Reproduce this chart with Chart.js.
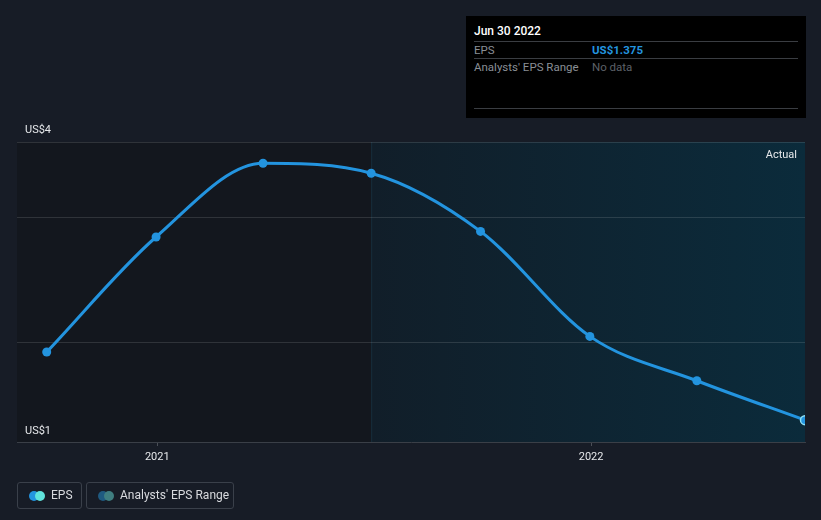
<!DOCTYPE html>
<html>
<head>
<meta charset="utf-8">
<script src="https://cdn.jsdelivr.net/npm/chart.js@4"></script>
<style>
  html, body { margin: 0; padding: 0; background: #171c26; }
  body { width: 821px; height: 520px; position: relative; overflow: hidden; font-family: Roboto, "Noto Sans", sans-serif; }
  #wrap { position: absolute; left: 0; top: 0; width: 821px; height: 520px; }
  .tip { position: absolute; left: 466px; top: 16px; width: 340px; height: 102px; background: #000; }
  .tip .head { position: absolute; left: 8px; top: 8px; color: #fff; font-size: 12px; font-weight: 500; }
  .tip .row { position: absolute; left: 8px; width: 324px; height: 17px; border-top: 1px solid #3a3d42; font-size: 11.5px; line-height: 16px; }
  .tip .row .k { position: absolute; left: 0; color: #8a8f96; }
  .tip .row .v { position: absolute; left: 118px; }
  .tip .line { position: absolute; left: 8px; width: 324px; top: 92px; border-top: 1px solid #3a3d42; }
  .legend { position: absolute; top: 482px; height: 25px; border: 1px solid #3a404a; border-radius: 3px; color: #d8dade; font-size: 12px; line-height: 25px; }
  .legend .dots { position: absolute; left: 11px; top: 8px; width: 16px; height: 10px; }
  .legend .dots i { position: absolute; top: 0; width: 10px; height: 10px; border-radius: 50%; }
  .legend span { position: absolute; left: 33px; white-space: nowrap; }
</style>
</head>
<body>
<div id="wrap"><canvas id="epsChart" width="821" height="520"></canvas></div>

<div class="tip">
  <div class="head">Jun 30 2022</div>
  <div class="row" style="top:25px"><span class="k">EPS</span><span class="v" style="color:#2394df;font-weight:700">US$1.375</span></div>
  <div class="row" style="top:42px"><span class="k">Analysts' EPS Range</span><span class="v" style="color:#5d6168">No data</span></div>
  <div class="line"></div>
</div>

<div class="legend" style="left:17px;width:63px">
  <div class="dots"><i style="left:0;background:#2394df"></i><i style="left:6px;background:#5fe3dc"></i></div>
  <span>EPS</span>
</div>
<div class="legend" style="left:86px;width:146px">
  <div class="dots"><i style="left:0;background:#1f5a80"></i><i style="left:6px;background:#3f7e80"></i></div>
  <span>Analysts' EPS Range</span>
</div>

<script>
// ================= DATA =================
const dates = ["2020-09-30", "2020-12-31", "2021-03-31", "2021-06-30", "2021-09-30", "2021-12-31", "2022-03-31", "2022-06-30"];
const eps = [1.92, 2.84, 3.43, 3.35, 2.885, 2.045, 1.69, 1.375];
const yearTicks = [2021, 2022];
const yLabels = ["US$4", "US$1"];
const actualStart = "2021-06-30";

const toMs = d => Date.parse(d + "T00:00:00Z");
const points = dates.map((d, i) => ({ x: toMs(d), y: eps[i] }));
const xMin = toMs("2020-09-05");
const xMax = toMs("2022-06-30");

// ================= BACKGROUND / LABELS PLUGIN =================
const regions = {
  id: "regions",
  beforeDatasetsDraw(chart) {
    const { ctx, chartArea: a, scales } = chart;
    const split = scales.x.getPixelForValue(toMs(actualStart));
    ctx.save();
    ctx.fillStyle = "#13171e";
    ctx.fillRect(a.left, a.top, split - a.left, a.bottom - a.top);
    const g = ctx.createLinearGradient(split, 0, a.right, 0);
    g.addColorStop(0, "#111e29");
    g.addColorStop(1, "#0b2b3b");
    ctx.fillStyle = g;
    ctx.fillRect(split, a.top, a.right - split, a.bottom - a.top);
    ctx.strokeStyle = "#182e3c";
    ctx.lineWidth = 1;
    ctx.beginPath();
    ctx.moveTo(split + 0.5, a.top);
    ctx.lineTo(split + 0.5, a.bottom);
    ctx.stroke();
    // gridlines over the shading
    ctx.strokeStyle = "rgba(255,255,255,0.12)";
    [3.6, 3, 2].forEach(v => {
      const y = Math.round(scales.y.getPixelForValue(v)) + 0.5;
      ctx.beginPath();
      ctx.moveTo(a.left, y);
      ctx.lineTo(a.right, y);
      ctx.stroke();
    });
    ctx.fillStyle = "#e6e8eb";
    ctx.font = "11px Roboto, sans-serif";
    ctx.textBaseline = "alphabetic";
    ctx.textAlign = "left";
    ctx.fillText(yLabels[0], 25, scales.y.getPixelForValue(3.6) - 9);
    ctx.fillText(yLabels[1], 25, scales.y.getPixelForValue(1.2) - 8);
    ctx.textAlign = "right";
    ctx.fillText("Actual", a.right - 8, a.top + 16);
    ctx.restore();
  }
};

// ================= CHART =================
const ctx = document.getElementById("epsChart").getContext("2d");

new Chart(ctx, {
  type: "line",
  data: {
    datasets: [
      {
        label: "EPS",
        data: points,
        borderColor: "#2394df",
        borderWidth: 3,
        cubicInterpolationMode: "monotone",
        pointRadius: 4.5,
        pointBackgroundColor: "#2394df",
        pointBorderColor: points.map((p, i) => i === points.length - 1 ? "#8fe0f5" : "#2394df"),
        pointBorderWidth: points.map((p, i) => i === points.length - 1 ? 1.5 : 0),
        clip: { left: 6, top: 6, right: 0, bottom: 6 },
      },
    ],
  },
  options: {
    responsive: false,
    animation: false,
    events: [],
    layout: { padding: { left: 17, right: 16, top: 142, bottom: 56 } },
    plugins: { legend: { display: false }, tooltip: { enabled: false } },
    scales: {
      x: {
        type: "linear",
        min: xMin,
        max: xMax,
        afterBuildTicks(scale) {
          scale.ticks = yearTicks.map(y => ({ value: Date.UTC(y, 0, 1) }));
        },
        afterFit(scale) { scale.height = 22; },
        grid: { drawOnChartArea: false, color: "#4a4f57", tickLength: 4 },
        border: { color: "#3a3f47", width: 1 },
        ticks: {
          color: "#e6e8eb",
          font: { family: "Roboto", size: 11 },
          padding: 5,
          maxRotation: 0,
          callback: v => String(new Date(v).getUTCFullYear()),
        },
      },
      y: {
        min: 1.2,
        max: 3.6,
        display: true,
        afterFit(scale) { scale.width = 0; },
        grid: { display: false, drawTicks: false },
        border: { display: false },
        ticks: { display: false },
      },
    },
  },
  plugins: [regions],
});
</script>
</body>
</html>
